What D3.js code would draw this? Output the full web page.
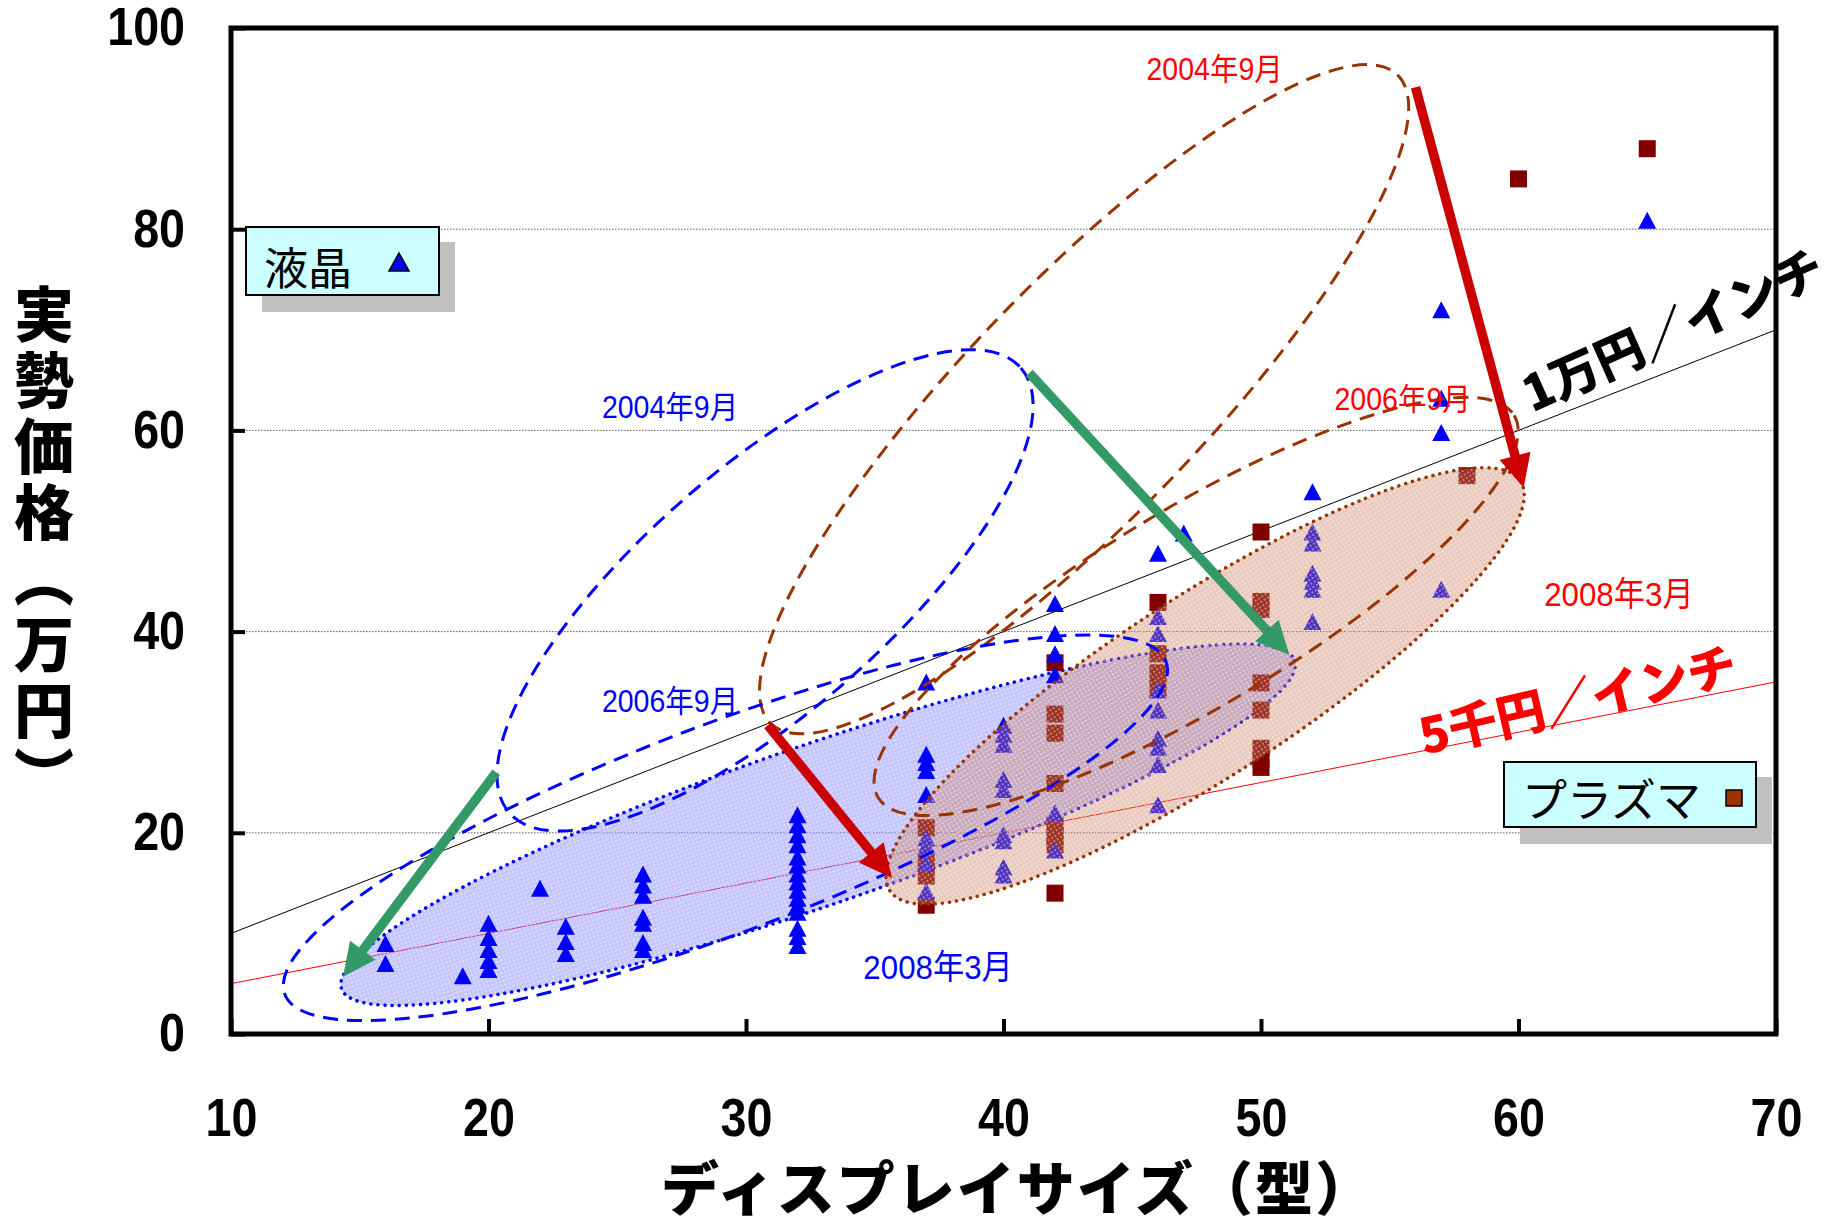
<!DOCTYPE html>
<html>
<head>
<meta charset="utf-8">
<script src="https://cdn.jsdelivr.net/npm/d3@7"></script>
<style>
  body { margin: 0; background: #fff; }
  svg { display: block; }
</style>
</head>
<body>
<div id="chart"></div>
<script>
(function() {

    // ---- data ----
    // LCD: screen size (inch) and street prices (10k yen) for each size
    var lcdSizes = [16, 19, 20, 22, 23, 26, 32, 37, 40, 42, 46, 47, 52, 57, 65];
    var lcdPrices = [
        [9.0, 7.0],
        [5.8],
        [11.0, 9.6, 8.4, 7.3, 6.4],
        [14.5],
        [10.7, 9.2, 8.0],
        [15.9, 14.8, 13.8, 11.6, 11.0, 9.1, 8.4],
        [21.8, 20.8, 19.8, 18.8, 17.6, 16.8, 15.9, 15.1, 14.3, 13.5, 12.8, 12.1, 10.5, 9.7, 8.8],
        [35.0, 27.8, 27.0, 26.2, 23.8, 19.5, 18.7, 17.0, 14.2],
        [30.7, 29.8, 28.8, 25.3, 24.3, 19.8, 19.2, 16.6, 15.8],
        [42.8, 39.8, 37.8, 35.7, 22.0, 18.3],
        [47.8, 41.5, 39.8, 34.2, 32.2, 29.4, 28.5, 26.8, 22.8],
        [49.8],
        [53.9, 49.9, 48.8, 45.8, 45.0, 44.2, 41.0],
        [72.0, 63.2, 59.8, 44.2],
        [80.9]
    ];
    // plasma
    var pdpSizes = [37, 42, 46, 50, 58, 60, 65];
    var pdpPrices = [
        [20.5, 17.0, 15.7, 12.8],
        [36.9, 31.8, 29.9, 24.9, 20.8, 19.7, 18.8, 14.0],
        [42.9, 37.8, 35.9, 34.3],
        [49.9, 43.0, 42.2, 34.9, 32.2, 28.4, 27.3, 26.5],
        [55.5],
        [85.0],
        [88.0]
    ];
    var xTicks = [10, 20, 30, 40, 50, 60, 70];
    var yTicks = [0, 20, 40, 60, 80, 100];
    var gridValues = [20, 40, 60, 80];
    // price per inch guide lines (10k yen / inch)
    var guideRates = [1.0, 0.5];
    var guideLabels = ["1万円／インチ", "5千円／インチ"];
    var periods = ["2004年9月", "2006年9月", "2008年3月"];

    // ---- annotations, placed in data units ----
    var lcdAreas = [
        {cx: 30.74, cy: 44.1, rx: 339, ry: 122, rot: -41,   lx: 27.05, ly: 62.3},
        {cx: 29.2,  cy: 20.5, rx: 471, ry: 104, rot: -20.7, lx: 27.05, ly: 33.1},
        {cx: 32.8,  cy: 20.8, rx: 504, ry: 80,  rot: -19,   lx: 37.46, ly: 6.7}
    ];
    var pdpAreas = [
        {cx: 43.13, cy: 63.1, rx: 451, ry: 118, rot: -46, lx: 48.2, ly: 95.9},
        {cx: 47.48, cy: 42.5, rx: 371, ry: 99,  rot: -31, lx: 55.5, ly: 63.1},
        {cx: 47.83, cy: 34.6, rx: 376, ry: 90,  rot: -33, lx: 63.9, ly: 43.8}
    ];
    var lcdArrows = [
        {x1: 20.3, y1: 26.0, x2: 14.35, y2: 5.7},
        {x1: 41.0, y1: 65.7, x2: 51.1, y2: 37.7}
    ];
    var pdpArrows = [
        {x1: 30.85, y1: 30.7, x2: 35.67, y2: 15.5},
        {x1: 56.0, y1: 94.1, x2: 60.2, y2: 54.3}
    ];
    var guideLabelPos = [
        {x: 66.0, y: 69.9, rot: -24},
        {x: 62.3, y: 33.1, rot: -13}
    ];

    // ---- layout ----
    var W = 1832, H = 1220;
    var margin = {top: 28, right: 56, bottom: 186, left: 231};

    var x = d3.scaleLinear().domain([10, 70]).range([margin.left, W - margin.right]);
    var y = d3.scaleLinear().domain([0, 100]).range([H - margin.bottom, margin.top]);

    var numFont = "'Liberation Sans', Arial, 'Noto Sans CJK JP', sans-serif";
    var jpFont = "'Noto Sans CJK JP', 'Noto Sans CJK SC', sans-serif";

    var svg = d3.select("#chart").append("svg")
        .attr("width", W)
        .attr("height", H)
        .style("background", "#fff");

    // hatch patterns for the 2008 areas
    var defs = svg.append("defs");
    function hatch(id, base, op) {
        var p = defs.append("pattern")
            .attr("id", id)
            .attr("width", 4).attr("height", 4)
            .attr("patternUnits", "userSpaceOnUse");
        p.append("rect").attr("width", 4).attr("height", 4)
            .attr("fill", base).attr("fill-opacity", op);
        p.append("rect").attr("x", 1).attr("y", 1).attr("width", 2).attr("height", 2)
            .attr("fill", "#fff").attr("fill-opacity", 0.4);
    }
    hatch("hatchLcd", "#8c8cff", 0.5);
    hatch("hatchPdp", "#c87a5a", 0.4);

    // gridlines
    svg.append("g").selectAll("line")
        .data(gridValues)
        .enter().append("line")
        .attr("x1", x(10)).attr("x2", x(70))
        .attr("y1", function(d) { return y(d); })
        .attr("y2", function(d) { return y(d); })
        .attr("stroke", "#606060")
        .attr("stroke-width", 1)
        .attr("stroke-dasharray", "1.5 1.5");

    // guide lines y = rate * size
    var guideColors = ["#000", "#ff0000"];
    svg.append("g").selectAll("line")
        .data(guideRates)
        .enter().append("line")
        .attr("x1", x(10)).attr("y1", function(d) { return y(10 * d); })
        .attr("x2", x(70)).attr("y2", function(d) { return y(70 * d); })
        .attr("stroke", function(d, i) { return guideColors[i]; })
        .attr("stroke-width", 1);

    // period areas
    var areas = svg.append("g");
    function drawArea(g, d, i, color, fillId) {
        var e = g.append("ellipse")
            .attr("cx", x(d.cx)).attr("cy", y(d.cy))
            .attr("rx", d.rx).attr("ry", d.ry)
            .attr("transform", "rotate(" + d.rot + "," + x(d.cx) + "," + y(d.cy) + ")")
            .attr("stroke", color)
            .attr("stroke-width", 3);
        if (i == 2) {
            e.attr("fill", "url(#" + fillId + ")")
             .attr("stroke-dasharray", "0.1 7")
             .attr("stroke-linecap", "round")
             .attr("stroke-width", 3.5);
        } else {
            e.attr("fill", "none")
             .attr("stroke-dasharray", "15 9");
        }
    }
    // LCD 2008 area sits under the marks
    drawArea(areas, lcdAreas[2], 2, "#0000ff", "hatchLcd");

    // points
    var lcdPoints = [], pdpPoints = [];
    lcdSizes.forEach(function(s, i) {
        lcdPrices[i].forEach(function(p) { lcdPoints.push({size: s, price: p}); });
    });
    pdpSizes.forEach(function(s, i) {
        pdpPrices[i].forEach(function(p) { pdpPoints.push({size: s, price: p}); });
    });

    svg.append("g").selectAll("rect")
        .data(pdpPoints)
        .enter().append("rect")
        .attr("x", function(d) { return x(d.size) - 8.5; })
        .attr("y", function(d) { return y(d.price) - 8.5; })
        .attr("width", 17).attr("height", 17)
        .attr("fill", "#800000");

    svg.append("g").selectAll("path")
        .data(lcdPoints)
        .enter().append("path")
        .attr("transform", function(d) { return "translate(" + x(d.size) + "," + y(d.price) + ")"; })
        .attr("d", "M0,-8.5L9,8.5L-9,8.5Z")
        .attr("fill", "#0000ff");

    // plasma 2008 area over the marks, then the dashed outlines
    var over = svg.append("g");
    drawArea(over, pdpAreas[2], 2, "#993300", "hatchPdp");
    [0, 1].forEach(function(i) {
        drawArea(over, lcdAreas[i], i, "#0000ff");
        drawArea(over, pdpAreas[i], i, "#993300");
    });

    // arrows
    function arrow(d, color) {
        var x1 = x(d.x1), y1 = y(d.y1), x2 = x(d.x2), y2 = y(d.y2);
        var dx = x2 - x1, dy = y2 - y1, len = Math.sqrt(dx * dx + dy * dy);
        var ux = dx / len, uy = dy / len;
        var hl = 33, hw = 16;
        var bx = x2 - ux * hl, by = y2 - uy * hl;
        svg.append("line")
            .attr("x1", x1).attr("y1", y1)
            .attr("x2", bx + ux * 4).attr("y2", by + uy * 4)
            .attr("stroke", color)
            .attr("stroke-width", 9.5);
        svg.append("path")
            .attr("d", "M" + x2 + "," + y2 +
                       "L" + (bx - uy * hw) + "," + (by + ux * hw) +
                       "L" + (bx + uy * hw) + "," + (by - ux * hw) + "Z")
            .attr("fill", color);
    }
    lcdArrows.forEach(function(d) { arrow(d, "#339966"); });
    pdpArrows.forEach(function(d) { arrow(d, "#cc0000"); });

    // period labels
    function periodLabel(d, i, color) {
        var fs = i == 2 ? 34 : 31;
        svg.append("text")
            .attr("transform", "translate(" + x(d.lx) + "," + y(d.ly) + ") scale(0.92,1)")
            .attr("text-anchor", "middle")
            .attr("dy", "0.36em")
            .style("font-family", numFont)
            .style("font-size", fs + "px")
            .attr("fill", color)
            .text(periods[i]);
    }
    lcdAreas.forEach(function(d, i) { periodLabel(d, i, "#0000ff"); });
    pdpAreas.forEach(function(d, i) { periodLabel(d, i, "#ff0000"); });

    // axes
    var yAxis = svg.append("g")
        .attr("transform", "translate(" + margin.left + ",0)")
        .call(d3.axisLeft(y).tickValues(yTicks).tickSize(-14).tickPadding(46));
    var xAxis = svg.append("g")
        .attr("transform", "translate(0," + (H - margin.bottom) + ")")
        .call(d3.axisBottom(x).tickValues(xTicks).tickSize(-15).tickPadding(64));

    [yAxis, xAxis].forEach(function(ax) {
        ax.select(".domain").remove();
        ax.selectAll(".tick line").attr("stroke", "#000").attr("stroke-width", 4);
        ax.selectAll(".tick text")
            .style("font-family", numFont)
            .style("font-weight", "bold")
            .style("font-size", "53px")
            .attr("fill", "#000")
            .attr("transform", "scale(0.88,1)");
    });
    yAxis.selectAll(".tick text").attr("x", -46 / 0.88);

    // plot frame
    svg.append("rect")
        .attr("x", x(10)).attr("y", y(100))
        .attr("width", x(70) - x(10))
        .attr("height", y(0) - y(100))
        .attr("fill", "none")
        .attr("stroke", "#000")
        .attr("stroke-width", 5);

    // guide labels
    var guideTextColors = ["#000", "#ff0000"];
    guideLabelPos.forEach(function(d, i) {
        svg.append("text")
            .attr("transform", "translate(" + x(d.x) + "," + y(d.y) + ") rotate(" + d.rot + ")")
            .attr("text-anchor", "middle")
            .attr("dy", "0.36em")
            .style("font-family", jpFont)
            .style("font-weight", 900)
            .style("font-size", "49px")
            .attr("fill", guideTextColors[i])
            .text(guideLabels[i]);
    });

    // axis titles
    svg.append("text")
        .attr("x", 44)
        .attr("y", 284)
        .style("writing-mode", "vertical-rl")
        .style("letter-spacing", "6px")
        .style("font-family", jpFont)
        .style("font-weight", 900)
        .style("font-size", "60px")
        .attr("fill", "#000")
        .text("実勢価格（万円）");

    svg.append("text")
        .attr("x", 1018)
        .attr("y", 1210)
        .attr("text-anchor", "middle")
        .style("letter-spacing", "2px")
        .style("font-family", jpFont)
        .style("font-weight", 900)
        .style("font-size", "58px")
        .attr("fill", "#000")
        .text("ディスプレイサイズ（型）");

    // legend boxes
    function legendBox(bx, by, bw, bh, label, fs, base, marker) {
        var g = svg.append("g");
        g.append("rect")
            .attr("x", bx + 16).attr("y", by + 15)
            .attr("width", bw).attr("height", bh + 2)
            .attr("fill", "#c0c0c0");
        g.append("rect")
            .attr("x", bx).attr("y", by)
            .attr("width", bw).attr("height", bh)
            .attr("fill", "#ccffff")
            .attr("stroke", "#000")
            .attr("stroke-width", 2);
        g.append("text")
            .attr("x", bx + 18).attr("y", by + base)
            .style("font-family", jpFont)
            .style("font-size", fs + "px")
            .attr("fill", "#000")
            .text(label);
        marker(g);
    }
    legendBox(246, 227, 193, 68, "液晶", 44, 58, function(g) {
        g.append("path")
            .attr("transform", "translate(399,262)")
            .attr("d", "M0,-9L10,9L-10,9Z")
            .attr("fill", "#0000ff")
            .attr("stroke", "#000")
            .attr("stroke-width", 1.5);
    });
    legendBox(1504, 762, 252, 65, "プラズマ", 45, 55, function(g) {
        g.append("rect")
            .attr("x", 1726).attr("y", 790)
            .attr("width", 16).attr("height", 16)
            .attr("fill", "#993300")
            .attr("stroke", "#000")
            .attr("stroke-width", 1.5);
    });

})();
</script>
</body>
</html>
